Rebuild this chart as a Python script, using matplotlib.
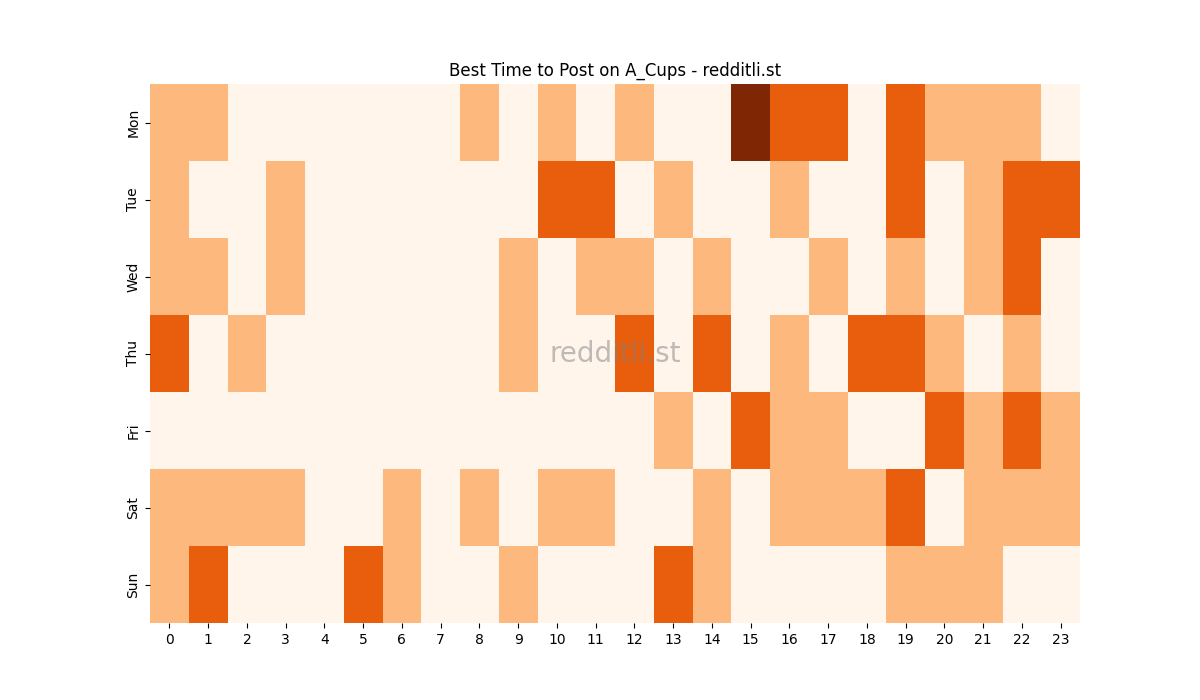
import matplotlib
matplotlib.use("Agg")
import matplotlib.pyplot as plt
import seaborn as sns
import numpy as np

days = ["Mon", "Tue", "Wed", "Thu", "Fri", "Sat", "Sun"]
hours = [str(h) for h in range(24)]

mon = [1, 1, 0, 0, 0, 0, 0, 0, 1, 0, 1, 0, 1, 0, 0, 3, 2, 2, 0, 2, 1, 1, 1, 0]
tue = [1, 0, 0, 1, 0, 0, 0, 0, 0, 0, 2, 2, 0, 1, 0, 0, 1, 0, 0, 2, 0, 1, 2, 2]
wed = [1, 1, 0, 1, 0, 0, 0, 0, 0, 1, 0, 1, 1, 0, 1, 0, 0, 1, 0, 1, 0, 1, 2, 0]
thu = [2, 0, 1, 0, 0, 0, 0, 0, 0, 1, 0, 0, 2, 0, 2, 0, 1, 0, 2, 2, 1, 0, 1, 0]
fri = [0, 0, 0, 0, 0, 0, 0, 0, 0, 0, 0, 0, 0, 1, 0, 2, 1, 1, 0, 0, 2, 1, 2, 1]
sat = [1, 1, 1, 1, 0, 0, 1, 0, 1, 0, 1, 1, 0, 0, 1, 0, 1, 1, 1, 2, 0, 1, 1, 1]
sun = [1, 2, 0, 0, 0, 2, 1, 0, 0, 1, 0, 0, 0, 2, 1, 0, 0, 0, 0, 1, 1, 1, 0, 0]

data = np.array([mon, tue, wed, thu, fri, sat, sun])

fig = plt.figure(figsize=(12, 7), dpi=100)
ax = fig.add_subplot(111)
sns.heatmap(data, cmap="Oranges", cbar=False, xticklabels=hours,
            yticklabels=days, ax=ax)
ax.set_title("Best Time to Post on A_Cups - redditli.st")
plt.setp(ax.get_yticklabels(), rotation=90, va="center")
plt.setp(ax.get_xticklabels(), rotation=0)
ax.text(0.5, 0.5, "redditli.st", transform=ax.transAxes, ha="center",
        va="center", fontsize=20, color="gray", alpha=0.5)
fig.savefig("out.png")
